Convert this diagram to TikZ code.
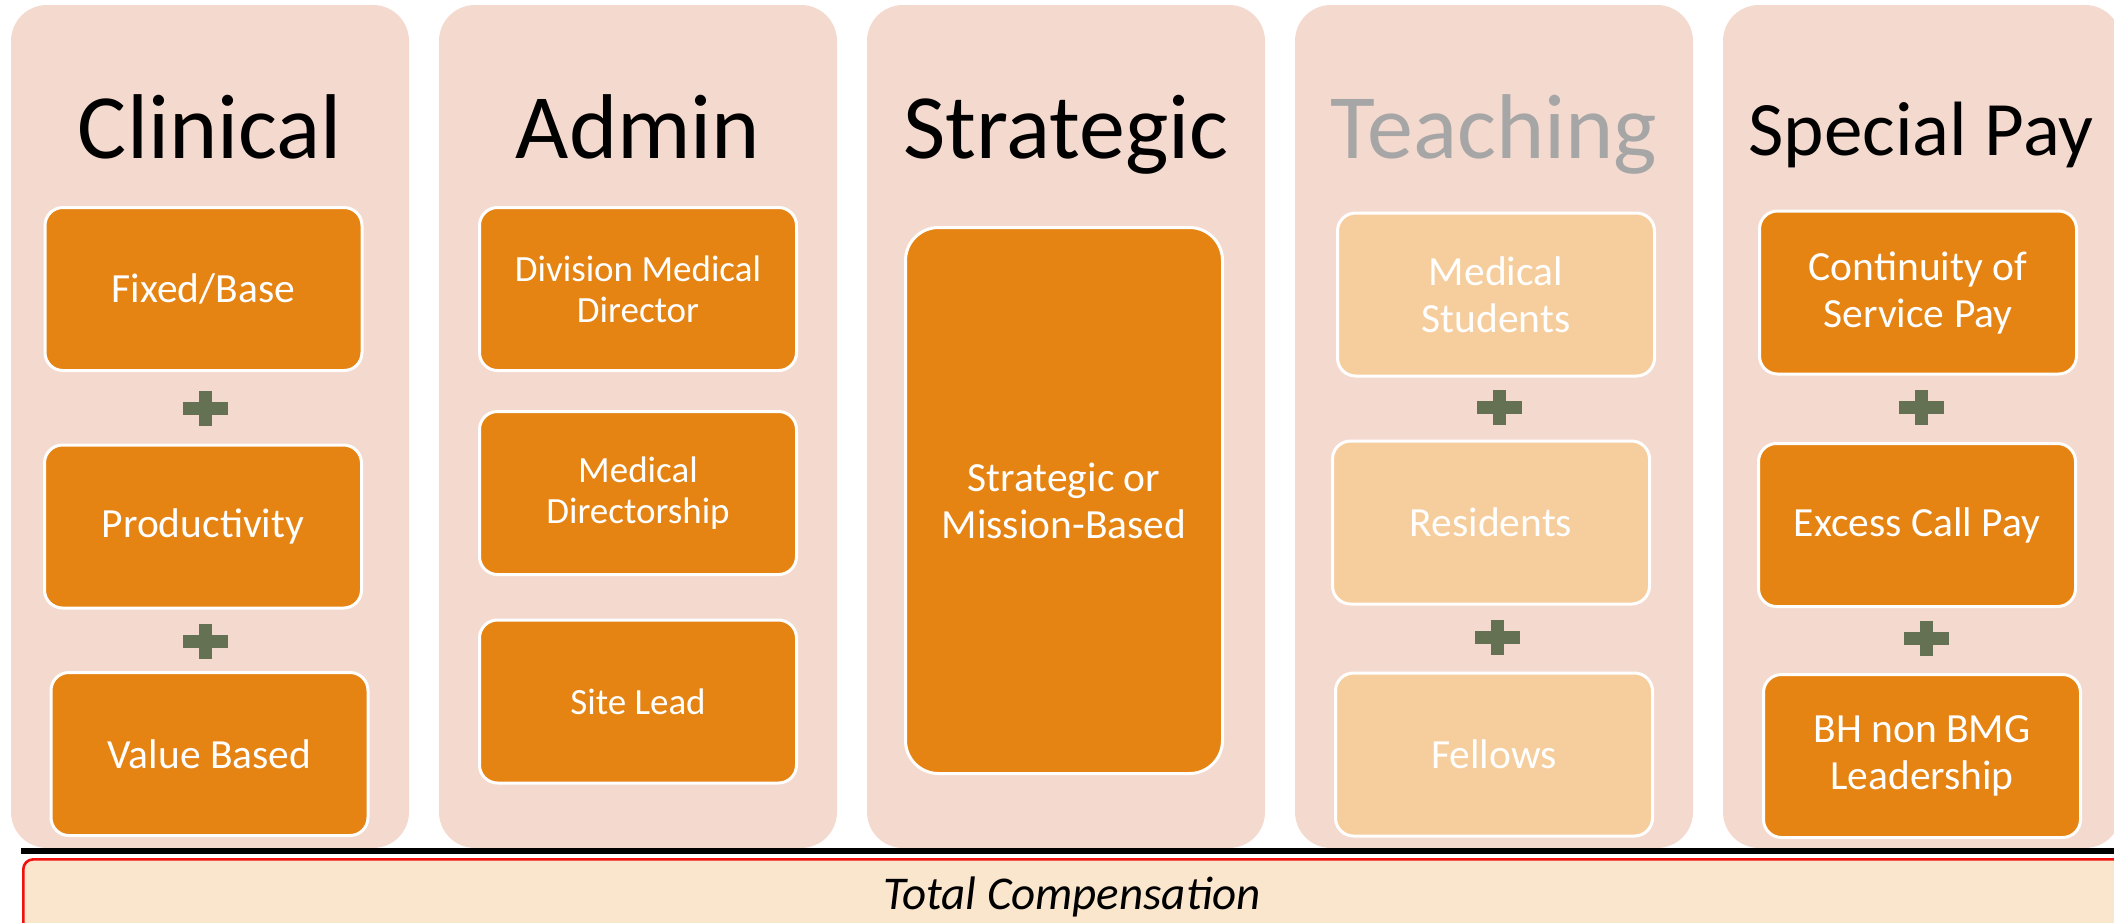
\documentclass[tikz,border=0pt]{standalone}
\usepackage{fontspec}
\setmainfont{Carlito}

\definecolor{panelbg}{HTML}{F4D9CE}
\definecolor{boxorange}{HTML}{E58313}
\definecolor{boxlight}{HTML}{F6CE9E}
\definecolor{plusgreen}{HTML}{657153}
\definecolor{totalbg}{HTML}{FAE6CD}
\definecolor{totalred}{HTML}{F01010}
\definecolor{greytitle}{HTML}{A6A6A6}

\begin{document}
\begin{tikzpicture}[x=1pt, y=-1pt,
  panel/.style={fill=panelbg, draw=none, rounded corners=36pt,
    minimum width=398pt, minimum height=843pt, inner sep=0pt},
  title/.style={anchor=base, inner sep=0pt, font=\fontsize{92}{110}\selectfont},
  item/.style={fill=boxorange, draw=white, line width=3pt, rounded corners=18pt,
    minimum width=317pt, minimum height=163pt, inner sep=4pt, text=white,
    align=center, font=\fontsize{41.5}{47}\selectfont},
  smallitem/.style={item, font=\fontsize{37}{41}\selectfont},
  lightitem/.style={item, fill=boxlight},
  plusmark/.pic={
    \fill[plusgreen] (-22.5,-6.5) rectangle (22.5,6.5);
    \fill[plusgreen] (-6.5,-17.5) rectangle (6.5,17.5);
  }]

\clip (0,0) rectangle (2114,922);
\useasboundingbox (0,0) rectangle (2114,922);

% column panels
\node[panel] (pClin) at (210,426.5) {};
\node[panel] (pAdm)  at (638,426.5) {};
\node[panel] (pStr)  at (1066,426.5) {};
\node[panel] (pTea)  at (1494,426.5) {};
\node[panel] (pSpe)  at (1922,426.5) {};

% column headings
\node[title] (hClin) at (210,158) {Clinical};
\node[title] (hAdm)  at (638,158) {Admin};
\node[title] (hStr)  at (1066,158) {Strategic};
\node[title, text=greytitle] (hTea) at (1494,158) {Teaching};
\node[title, font=\fontsize{77}{92}\selectfont] (hSpe) at (1921,155) {Special Pay};

% Clinical
\node[item] (fixed) at (203.5,289)   {Fixed/Base};
\node[item] (prod)  at (203,526.5)   {Productivity};
\node[item] (value) at (209.5,754)   {Value Based};
\pic (plA) at (205,408) {plusmark};
\pic (plB) at (205,641) {plusmark};

% Admin
\node[smallitem] (divdir) at (638,289)   {Division Medical\\Director};
\node[smallitem] (meddir) at (638,493)   {Medical\\Directorship};
\node[smallitem] (site)   at (638,701.5) {Site Lead};

% Strategic
\node[item, rounded corners=33pt, minimum height=546pt] (strat) at (1064,500.5)
  {Strategic or\\Mission-Based};

% Teaching
\node[lightitem] (stud) at (1496,294.5) {Medical\\Students};
\node[lightitem] (res)  at (1491,522.5) {Residents};
\node[lightitem] (fel)  at (1494,754.5) {Fellows};
\pic (plC) at (1499,407) {plusmark};
\pic (plD) at (1497,637) {plusmark};

% Special Pay
\node[item] (cont) at (1918,292.5) {Continuity of\\Service Pay};
\node[item] (exc)  at (1917,525)   {Excess Call Pay};
\node[item] (bh)   at (1922,756)   {BH non BMG\\Leadership};
\pic (plE) at (1921,407) {plusmark};
\pic (plF) at (1926,638) {plusmark};

% base line and total bar
\coordinate (lineL) at (21,851);
\coordinate (lineR) at (2120,851);
\draw[line width=6pt, black] (lineL) -- (lineR);
\node[fill=totalbg, draw=totalred, line width=2.6pt, rounded corners=10pt,
  minimum width=2100pt, minimum height=80pt, anchor=north west, inner sep=0pt]
  (total) at (22,858) {};
\node[anchor=base, inner sep=0pt, font=\fontsize{47}{56}\selectfont\itshape]
  (totaltxt) at (1072,909) {Total Compensation};

\end{tikzpicture}
\end{document}
